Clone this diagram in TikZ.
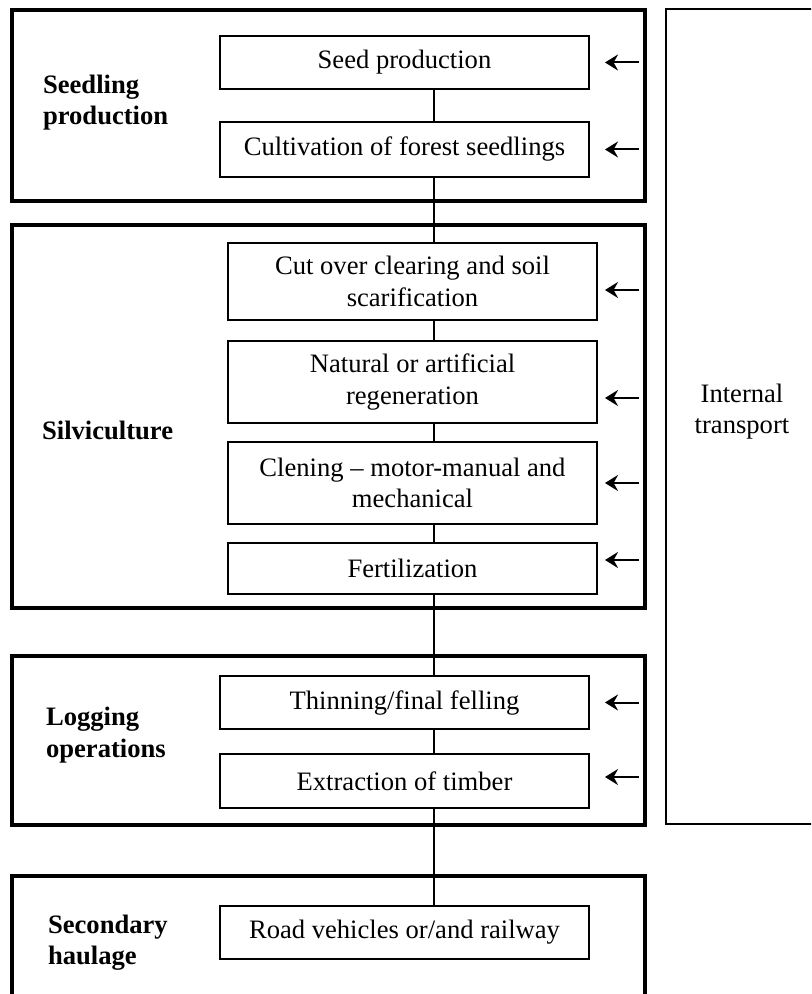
\documentclass[tikz,border=0pt]{standalone}
\usepackage{fontspec}
\setmainfont{Liberation Serif}
\usetikzlibrary{arrows.meta,calc}

\tikzset{
  stepbox/.style={draw,line width=0.85pt,minimum width=184.5pt,minimum height=26.5pt,align=center,inner sep=3pt},
  stage/.style={draw,line width=2pt},
  phase/.style={anchor=west,align=left,font=\fontsize{13.3}{15.6}\selectfont\bfseries},
  link/.style={line width=0.75pt},
  feed/.style={line width=1pt,-{Stealth[length=6.5pt,width=8pt,inset=2.2pt]}}
}

\begin{document}
\begin{tikzpicture}[x=0.5pt,y=-0.5pt,font=\fontsize{13.3}{15.6}\selectfont]
  \clip (0,0) rectangle (811,994);
  % stage frames
  \draw[stage] (12,10) rectangle (645,201);
  \draw[stage] (12,225) rectangle (645,608);
  \draw[stage] (12,656) rectangle (645,825);
  \draw[stage] (12,876) rectangle (645,1010);
  \draw[line width=1pt] (666,9) rectangle (840,824);

  \node[phase] (lseed) at (36,103) {Seedling\\production};
  \node[phase] (lsilv) at (35,430) {Silviculture};
  \node[phase] (llog) at (39,735) {Logging\\operations};
  \node[phase] (lhaul) at (41,943) {Secondary\\haulage};
  \node[align=center] (transport) at (742,412) {Internal\\transport};

  \node[stepbox] (seed) at (404.5,62.5) {Seed production};
  \node[stepbox,minimum height=27.5pt] (cult) at (404.5,149.5) {Cultivation of forest seedlings};
  \node[stepbox,minimum height=38.5pt] (cut) at (412.5,281.5) {Cut over clearing and soil\\scarification};
  \node[stepbox,minimum height=41pt] (regen) at (412.5,382) {Natural or artificial\\regeneration};
  \node[stepbox,minimum height=41pt] (clean) at (412.5,483) {Clening -- motor-manual and\\mechanical};
  \node[stepbox,minimum height=25.5pt] (fert) at (412.5,568.5) {Fertilization};
  \node[stepbox] (thin) at (404.5,702.5) {Thinning/final felling};
  \node[stepbox,minimum height=27pt] (extr) at (404.5,781) {Extraction of timber};
  \node[stepbox] (road) at (404.5,932.5) {Road vehicles or/and railway};

  \coordinate (spine) at (434,0);
  \coordinate (tail) at (639,0);
  \coordinate (tip) at (605,0);
  \foreach \a/\b in {seed/cult,cult/cut,cut/regen,regen/clean,clean/fert,fert/thin,thin/extr,extr/road}
    \draw[link] (\a.south -| spine) -- (\b.north -| spine);
  % inputs from internal transport
  \foreach \n/\dy in {seed/0,cult/0,cut/8.5,regen/16,clean/0,fert/-8.5,thin/0,extr/-4}
    \draw[feed] ($(\n.east -| tail)+(0,\dy)$) -- ($(\n.east -| tip)+(0,\dy)$);
\end{tikzpicture}
\end{document}
